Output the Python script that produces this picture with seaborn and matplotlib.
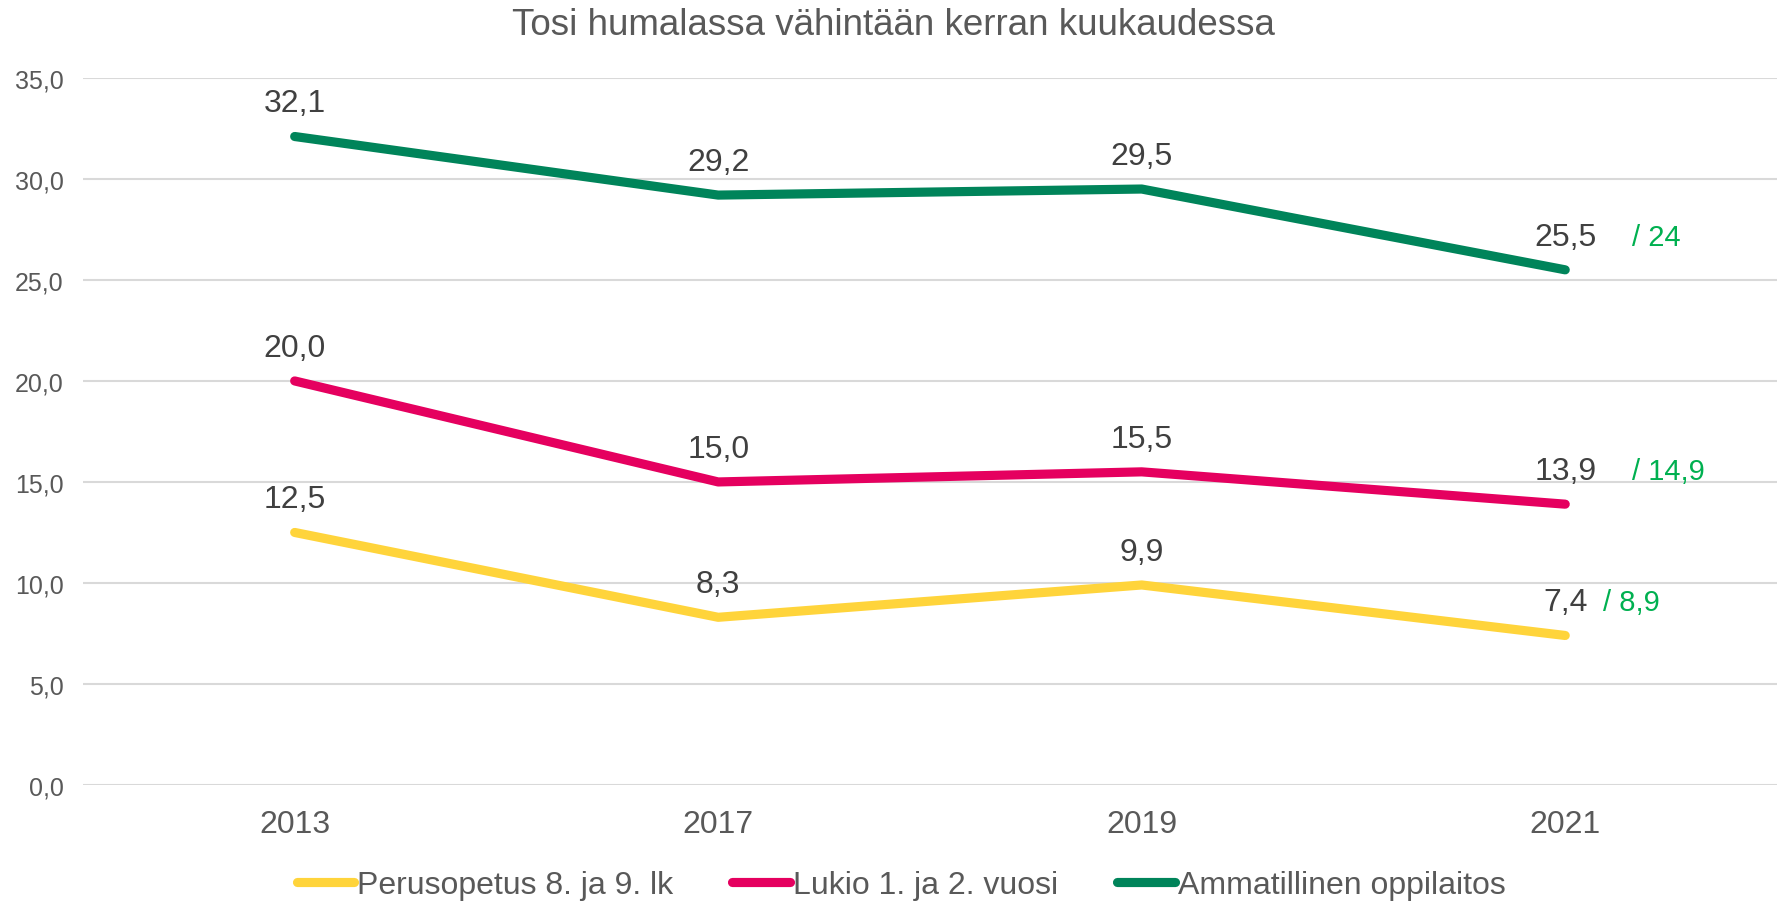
import pandas as pd
import matplotlib
matplotlib.use("Agg")
import matplotlib.pyplot as plt
import seaborn as sns

years = ["2013", "2017", "2019", "2021"]
perusopetus = [12.5, 8.3, 9.9, 7.4]
lukio = [20.0, 15.0, 15.5, 13.9]
ammatillinen = [32.1, 29.2, 29.5, 25.5]
series_names = ["Perusopetus 8. ja 9. lk", "Lukio 1. ja 2. vuosi", "Ammatillinen oppilaitos"]
# extra comparison figures shown in green next to the 2021 values
extra_labels = ["/ 8,9", "/ 14,9", "/ 24"]
colors = ["#FFD43B", "#E5005F", "#00845A"]

df = pd.DataFrame({
    "vuosi": years * 3,
    "arvo": perusopetus + lukio + ammatillinen,
    "ryhma": [n for n in series_names for _ in years],
})

sns.set_style("white")
plt.rcParams["font.family"] = ["Liberation Sans", "DejaVu Sans"]

fig = plt.figure(figsize=(17.87, 9.03), dpi=100)
ax = fig.add_axes([0.0464, 0.1296, 0.948, 0.783])

sns.lineplot(data=df, x="vuosi", y="arvo", hue="ryhma", hue_order=series_names,
             palette=colors, linewidth=6.6, solid_capstyle="round", ax=ax)

ax.set_ylim(0, 35)
ax.set_xlim(-0.5, 3.5)
ax.set_yticks(range(0, 36, 5))
ax.set_yticklabels([f"{v},0" for v in range(0, 36, 5)])
ax.yaxis.grid(True, color="#D9D9D9", linewidth=1.5)
ax.set_axisbelow(True)
for s in ax.spines.values():
    s.set_visible(False)
ax.tick_params(axis="y", labelsize=18, colors="#595959", length=0, pad=14)
ax.tick_params(axis="x", labelsize=23, colors="#595959", length=0, pad=17)
ax.set_xlabel("")
ax.set_ylabel("")

for vals in [perusopetus, lukio, ammatillinen]:
    for i, v in enumerate(vals):
        ax.annotate(f"{v:.1f}".replace(".", ","), (i, v), xytext=(0, 24),
                    textcoords="offset points", ha="center", va="center",
                    fontsize=23, color="#404040")

offsets = [27, 48, 48]
for vals, lab, dx in zip([perusopetus, lukio, ammatillinen], extra_labels, offsets):
    ax.annotate(lab, (3, vals[-1]), xytext=(dx, 24), textcoords="offset points",
                ha="left", va="center", fontsize=21, color="#00B050")

fig.suptitle("Tosi humalassa vähintään kerran kuukaudessa", y=0.972, va="center",
             fontsize=26.5, color="#595959")

ax.legend(loc="upper center", bbox_to_anchor=(0.483, -0.08), ncol=3, frameon=False,
          fontsize=23, labelcolor="#595959", handlelength=1.8, handletextpad=0.1,
          columnspacing=1.85)

fig.savefig("out.png", dpi=100)
